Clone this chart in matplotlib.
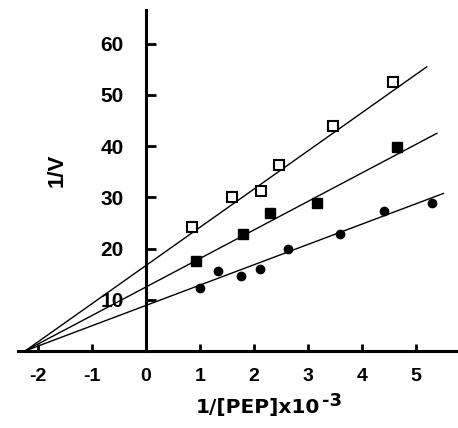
import matplotlib
matplotlib.use("Agg")
import matplotlib.pyplot as plt
import numpy as np

plt.rcParams['font.family'] = ['Liberation Sans', 'DejaVu Sans']
plt.rcParams['font.weight'] = 'bold'
plt.rcParams['axes.unicode_minus'] = False

# open squares (top series)
open_x = [0.85, 1.60, 2.14, 2.46, 3.46, 4.57]
open_y = [24.3, 30.0, 31.2, 36.4, 44.0, 52.6]

# filled squares (middle series)
sq_x = [0.93, 1.79, 2.30, 3.16, 4.65]
sq_y = [17.6, 22.8, 27.0, 29.0, 39.9]

# filled circles (bottom series)
circ_x = [1.00, 1.34, 1.76, 2.11, 2.64, 3.59, 4.41, 5.30]
circ_y = [12.4, 15.7, 14.6, 16.1, 19.9, 22.8, 27.3, 29.0]

# fitted lines: intercept, slope, right end
line_icpt = [16.7, 12.5, 8.9]
line_slope = [7.46, 5.57, 3.97]
line_end = [5.20, 5.39, 5.51]
line_start = -2.28

xticks = [-2, -1, 0, 1, 2, 3, 4, 5]
yticks = [10, 20, 30, 40, 50, 60]

fig = plt.figure(figsize=(4.58, 4.28), dpi=100)
ax = fig.add_axes([18 / 458, 77 / 428, 440 / 458, 341 / 428])

for b, m, xe in zip(line_icpt, line_slope, line_end):
    xs = np.array([line_start, xe])
    ax.plot(xs, b + m * xs, color='black', lw=1.0, zorder=2)

ax.plot(open_x, open_y, 's', ms=7, mfc='white', mec='black', mew=1.5, zorder=3)
ax.plot(sq_x, sq_y, 's', ms=7.5, color='black', zorder=3)
ax.plot(circ_x, circ_y, 'o', ms=6, color='black', zorder=3)

ax.set_xlim(-2.37, 5.78)
ax.set_ylim(0, 66.6)

ax.spines['left'].set_position(('data', 0))
ax.spines['bottom'].set_position(('data', 0))
ax.spines['top'].set_visible(False)
ax.spines['right'].set_visible(False)
ax.spines['left'].set_linewidth(2.2)
ax.spines['bottom'].set_linewidth(2.2)

ax.set_xticks(xticks)
ax.set_xticklabels([str(t) for t in xticks])
ax.set_yticks(yticks)
ax.set_yticklabels([str(t) for t in yticks])
ax.tick_params(axis='y', direction='in', length=7, width=2, pad=16, labelsize=15)
ax.tick_params(axis='x', direction='in', length=5, width=2, pad=12, labelsize=14)

# axis titles, placed by hand like the scanned figure
xl = fig.text(196 / 458, 1 - 413 / 428, '1/[PEP]x10', fontsize=14.5, family='DejaVu Sans',
              fontweight='bold', ha='left', va='baseline')
# superscript glued to the end of the label
ax.annotate('-3', xy=(1, 1), xycoords=xl, xytext=(1, 4), textcoords='offset points',
            fontsize=13, family='DejaVu Sans', fontweight='bold', ha='left', va='top',
            annotation_clip=False)
fig.text(57 / 458, 1 - 170 / 428, '1/V', fontsize=16, fontweight='bold',
         rotation=90, ha='center', va='center')

fig.savefig('out.png', dpi=100)
